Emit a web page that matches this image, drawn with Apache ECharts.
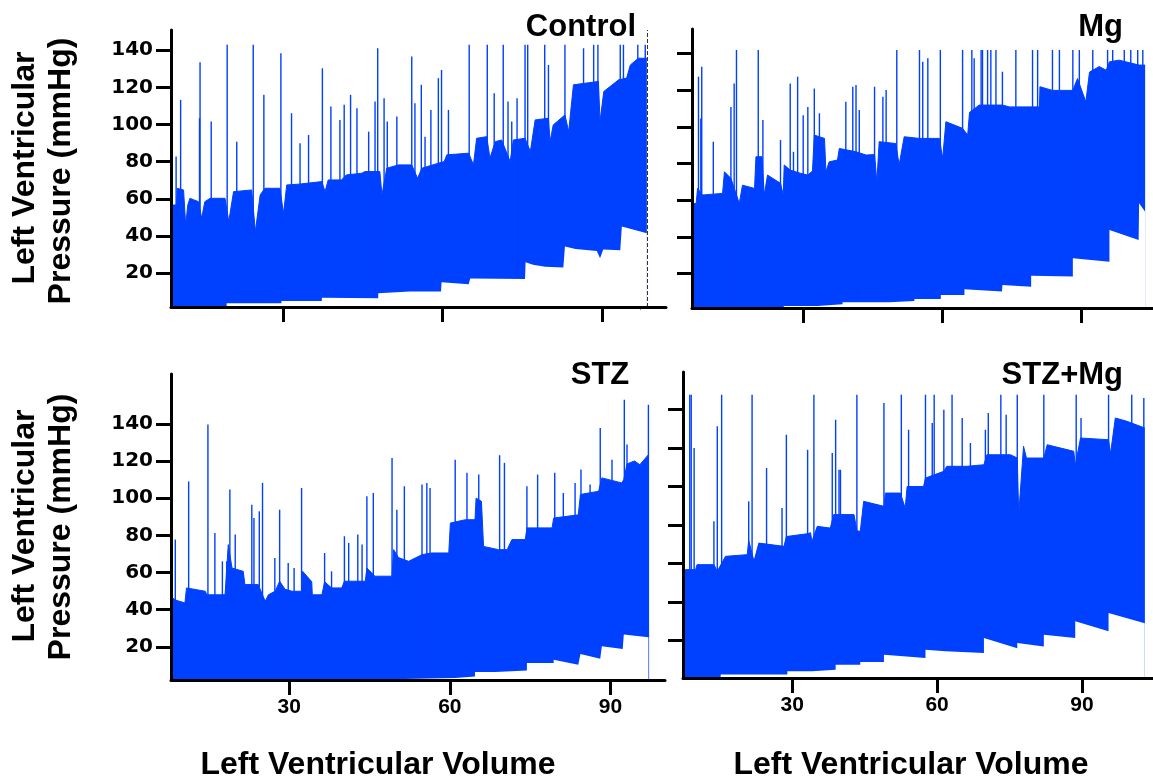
<!DOCTYPE html>
<html>
<head>
<meta charset="utf-8">
<script src="https://cdn.jsdelivr.net/npm/echarts@6/dist/echarts.min.js"></script>
<style>html,body{margin:0;padding:0;background:#fff;}#chart{width:1153px;height:778px;}</style>
</head>
<body>
<div id="chart"></div>
<script>
// ---------------- DATA ----------------
const panelTitles = ['Control', 'Mg', 'STZ', 'STZ+Mg'];
const xTickValues = [30, 60, 90];
const yTickValues = [20, 40, 60, 80, 100, 120, 140];
const yAxisTitleLines = ['Left Ventricular', 'Pressure (mmHg)'];
const xAxisTitle = 'Left Ventricular Volume';

// upper envelope of the pressure trace [volume, pressure]
const controlUpper = [[9.2,56.7],[10.0,56.7],[10.1,65.7],[11.3,64.8],[11.7,46.0],[12.1,56.7],[12.5,60.3],[14.1,58.5],[14.7,49.6],[15.3,58.5],[16.3,60.3],[19.1,60.3],[19.8,47.8],[20.7,63.9],[24.1,64.8],[24.8,42.4],[25.7,62.1],[26.6,65.7],[29.4,65.7],[30.1,52.2],[30.7,67.5],[32.9,67.9],[37.3,69.3],[37.9,63.9],[38.5,70.2],[41.0,70.2],[41.9,72.9],[44.8,73.8],[45.4,74.7],[48.2,74.7],[48.6,62.1],[49.5,76.5],[51.7,78.3],[54.2,78.3],[55.3,71.1],[56.1,76.5],[59.2,79.2],[60.3,80.1],[60.8,83.7],[64.9,84.6],[65.8,78.3],[66.4,92.6],[68.3,93.5],[68.9,81.9],[69.9,90.8],[71.1,91.7],[72.7,80.1],[73.3,91.7],[75.5,92.6],[76.5,85.5],[77.4,102.5],[79.9,103.4],[80.2,90.8],[80.8,99.8],[83.0,105.2],[83.7,96.2],[84.6,121.4],[89.3,123.2],[89.6,101.6],[90.3,117.8],[93.1,124.1],[94.6,125.0],[95.3,132.1],[96.8,135.7],[98.4,135.7]];
// lower envelope
const controlLower = [[9.2,2.0],[19.4,2.0],[19.4,3.8],[29.7,3.8],[29.7,5.0],[37.3,5.0],[37.3,6.8],[47.9,6.5],[47.9,9.2],[53.9,10.1],[54.2,11.0],[59.7,10.1],[59.8,15.1],[64.9,14.0],[65.2,17.2],[75.5,16.9],[75.6,25.9],[77.0,24.5],[79.3,23.5],[82.7,23.0],[83.0,34.3],[85.0,33.0],[89.0,32.0],[89.6,28.0],[90.2,32.8],[93.4,32.4],[93.7,45.1],[98.4,41.5]];
// spikes [volume, peak pressure]
const controlSpikes = [[9.9,82.8],[10.75,113.3],[14.3,103.4],[14.4,133.6],[16.5,101.6],[19.5,143],[21.3,90.8],[24.4,143],[26.4,116],[29.6,138.4],[31.6,106.1],[33.2,89.9],[34.8,94.4],[37.4,130.3],[39.0,109.7],[40.7,102.5],[41.5,110.6],[42.7,116],[43.9,108.8],[46.1,96.2],[47.3,112.4],[47.8,141.1],[49.0,114.2],[49.6,101.6],[51.4,104.3],[54.2,136.6],[54.8,111.5],[56.0,121.4],[56.7,93.5],[57.8,107.9],[59.2,125],[59.8,129.4],[61.1,107.9],[65.0,143],[68.4,143],[69.7,116.9],[71.4,143],[72.3,112.4],[73.0,101.6],[74.0,114.2],[75.5,143],[76.0,143],[79.2,143],[79.9,132.1],[83.0,143],[86.5,141.1],[88.4,143],[89.2,143],[93.4,143],[94.0,143],[96.7,143],[98.1,143]];

const mgUpper = [[6.0,58.3],[6.8,58.3],[7.1,66.5],[8.2,62.9],[12.5,63.8],[12.9,75.6],[14.3,72.0],[15.5,63.0],[16.1,58.3],[16.8,68.3],[19.4,66.5],[19.7,83.8],[21.0,83.8],[21.5,62.9],[22.2,73.8],[25.0,69.3],[25.6,62.9],[25.8,79.3],[27.1,76.5],[29.4,74.7],[30.9,73.8],[31.9,76.0],[32.3,95.6],[34.5,93.8],[34.8,75.6],[35.5,81.0],[37.3,82.0],[37.7,88.3],[41.3,86.5],[43.5,84.7],[45.3,85.0],[45.8,70.0],[46.3,92.0],[49.9,91.0],[50.6,79.3],[51.7,94.7],[55.0,93.8],[59.3,93.8],[60.0,82.9],[60.7,102.9],[64.3,99.3],[65.4,95.6],[65.8,108.0],[67.9,112.0],[72.9,112.0],[74.4,111.0],[80.9,111.0],[81.0,122.0],[83.7,120.0],[88.1,120.0],[89.1,126.5],[90.9,113.8],[91.7,130.0],[93.8,133.0],[95.3,131.0],[96.0,135.6],[98.1,136.5],[102.4,133.8],[103.7,133.8]];
const mgLower = [[6.0,1.3],[25.7,1.3],[25.7,2.4],[33.0,2.4],[33.0,3.3],[38.4,3.3],[38.4,4.4],[48.5,4.4],[48.5,5.1],[53.9,5.1],[53.9,6.2],[59.6,6.2],[59.6,8.4],[64.7,8.4],[64.7,11.5],[72.8,10.2],[72.9,13.8],[79.1,12.9],[79.1,18.9],[88.1,18.4],[88.1,28.4],[96.0,26.5],[96.0,43.8],[102.3,38.4],[102.4,58.4],[103.7,53.8]];
const mgSpikes = [[7.3,127.5],[7.8,104.7],[8.0,132.9],[10.5,92],[14.3,111],[15.0,123.8],[15.5,142],[20.2,142],[21.2,103.8],[25.0,92.9],[27.1,123.8],[27.8,86.5],[28.7,127.5],[29.9,106.5],[30.9,111],[32.3,121],[33.4,107.5],[39.1,113.8],[40.6,122],[41.3,122.9],[42.0,109.3],[45.3,122],[47.1,116.5],[47.8,120.2],[50.1,142],[55.0,142],[55.7,135.6],[56.8,137.5],[59.5,142],[64.3,142],[66.3,142],[66.8,137.5],[68.3,142],[68.6,142],[69.7,142],[70.4,142],[71.5,142],[72.9,130.2],[75.8,142],[79.4,142],[80.5,142],[83.7,142],[85.2,142],[88.1,142],[89.5,142],[92.4,142],[95.6,142],[96.7,142],[99.2,142],[100.6,142],[102.1,142],[103.2,142]];

const stzUpper = [[8.2,46.3],[8.7,45.2],[10.5,43.6],[10.8,51.7],[14.3,49.9],[14.6,48.0],[18.0,48.0],[18.6,75.0],[19.3,62.4],[21.4,60.6],[21.7,53.5],[24.2,53.5],[25.5,44.5],[26.1,48.0],[27.4,50.0],[28.2,55.3],[29.2,51.0],[30.5,49.9],[32.3,49.9],[32.5,60.6],[34.2,55.0],[34.3,48.0],[36.1,48.0],[36.6,55.0],[37.9,51.7],[39.8,51.7],[40.3,55.3],[44.2,55.3],[44.5,62.4],[46.0,58.0],[49.2,58.0],[49.5,72.3],[50.4,68.0],[52.3,66.0],[54.8,69.6],[56.6,70.5],[59.8,70.5],[60.1,86.6],[62.9,88.4],[64.7,88.4],[64.9,100.0],[65.9,98.3],[66.3,74.0],[69.1,72.3],[70.7,72.3],[71.6,77.7],[74.1,77.7],[74.4,84.0],[79.1,84.0],[79.4,89.3],[84.0,91.0],[84.4,102.0],[87.8,103.7],[88.4,110.9],[92.1,108.2],[92.5,110.0],[93.1,118.4],[94.5,120.0],[95.5,118.0],[97.1,123.4]];
const stzLower = [[8.2,2.3],[44.2,2.3],[44.2,3.2],[61.0,3.2],[61.0,4.1],[64.7,4.1],[64.7,6.5],[68.5,6.5],[68.5,7.2],[74.4,7.2],[74.4,11.3],[79.4,11.3],[79.4,13.1],[84.0,10.4],[84.4,16.1],[88.1,13.6],[88.4,20.3],[92.3,18.8],[92.5,26.6],[97.1,25.1]];
const stzSpikes = [[8.7,77.7],[11.2,109],[14.8,139.6],[16.1,81.3],[17.5,66],[18.3,66],[18.9,104.6],[19.9,80.4],[23.0,96.5],[23.4,89.3],[24.4,92.9],[25.0,108.2],[27.3,67.8],[28.2,93.8],[29.8,65.1],[30.9,62.4],[32.3,105.5],[36.6,70.5],[37.9,60.6],[40.3,79.5],[41.1,75.9],[42.8,80.4],[43.6,75],[44.5,101],[45.7,102.8],[49.2,121.6],[50.1,93.8],[51.5,106.4],[54.8,107.3],[55.7,108.2],[56.3,105.5],[61.0,120.7],[63.2,113.6],[65.4,112.7],[69.3,123.1],[70.2,119],[74.4,106.4],[76.4,112.7],[79.6,113.6],[81.2,102.8],[83.4,108.2],[84.5,115.4],[86.2,107.3],[88.1,137.8],[90.3,120.7],[92.6,153],[93.1,128.8],[97.1,150.3]];

const stzMgUpper = [[7.7,56.8],[10.0,56.8],[10.3,59.4],[13.8,59.4],[14.5,56.0],[14.8,56.0],[16.2,63.7],[20.7,64.6],[21.0,72.0],[22.1,61.1],[23.1,70.6],[28.3,68.9],[28.8,74.0],[33.2,75.5],[33.8,76.0],[34.1,71.5],[35.2,79.3],[37.9,78.4],[38.6,85.4],[42.8,85.4],[43.4,77.0],[44.1,76.7],[44.8,92.3],[49.0,89.7],[49.3,96.6],[52.4,96.6],[53.4,88.8],[53.8,100.0],[57.2,100.0],[57.6,104.4],[61.4,107.9],[62.0,110.5],[66.2,110.5],[69.7,111.3],[70.3,116.5],[75.2,116.5],[76.6,114.8],[76.9,85.4],[77.9,120.9],[78.5,114.8],[82.1,114.8],[82.8,121.7],[88.3,118.3],[88.6,111.0],[89.7,125.2],[95.5,124.3],[95.9,117.0],[96.9,135.6],[99.3,133.9],[103.0,130.4]];
const stzMgLower = [[7.7,1.0],[15.2,1.0],[15.2,2.3],[29.0,2.3],[29.0,4.0],[34.1,4.0],[34.1,4.8],[39.0,4.8],[39.0,7.4],[44.1,7.4],[44.1,8.8],[49.0,8.8],[49.0,12.6],[57.6,10.9],[57.6,15.2],[61.7,14.4],[61.7,13.5],[69.7,13.5],[69.7,21.3],[76.6,16.0],[76.6,18.7],[82.1,16.9],[82.1,23.0],[88.6,21.3],[88.6,30.0],[95.5,24.8],[95.5,34.3],[103.0,29.0]];
const stzMgSpikes = [[8.8,147.7],[9.1,147.7],[9.7,120],[13.8,81.9],[14.5,131.3],[15.4,147.7],[21.0,92.3],[21.7,147.7],[24.7,109.6],[27.9,88.8],[28.8,126.9],[33.2,119.1],[34.5,147.7],[38.3,117.4],[39.0,134.7],[39.7,108.7],[40.0,108.7],[43.4,147.7],[49.0,143.4],[52.6,147.7],[54.1,129.5],[57.6,147.7],[59.0,133],[59.4,147.7],[61.4,139.9],[63.1,147.7],[65.2,135.6],[66.9,122.6],[70.0,129.5],[70.6,138.2],[73.2,147.7],[74.3,137.3],[76.6,147.7],[82.1,147.7],[88.8,147.7],[89.8,135.6],[95.5,147.7],[100.3,147.7],[102.8,146]];

const markerVolume = 98.5; // dotted marker in Control panel

// ---------------- LAYOUT ----------------
const BLUE = '#0040ff';
const panels = [
  {grid:{left:171, top:30,  width:495, height:277}, x:[8.94,102.0], y:[1.8,150.9], xLab:false, yLab:true,  up:controlUpper, lo:controlLower, sp:controlSpikes},
  {grid:{left:692, top:29,  width:461, height:279}, x:[5.9,105.4],  y:[1.25,153.5], xLab:false, yLab:false, up:mgUpper, lo:mgLower, sp:mgSpikes},
  {grid:{left:171, top:374, width:494, height:306}, x:[7.9,100.2],  y:[2.15,166.8], xLab:true,  yLab:true,  up:stzUpper, lo:stzLower, sp:stzSpikes},
  {grid:{left:683, top:372, width:470, height:306}, x:[7.4,104.7],  y:[0.5,159.5],  xLab:true,  yLab:false, up:stzMgUpper, lo:stzMgLower, sp:stzMgSpikes}
];

const grids = [], xAxes = [], yAxes = [], series = [];
panels.forEach((p, i) => {
  grids.push(Object.assign({outerBoundsMode:'none', containLabel:false}, p.grid));
  xAxes.push({
    gridIndex:i, type:'value', min:p.x[0], max:p.x[1], z:10,
    axisLine:{show:true, onZero:false, lineStyle:{color:'#000', width:3}},
    axisTick:{show:true, length:15, customValues:xTickValues, lineStyle:{color:'#000', width:3}},
    axisLabel:{show:p.xLab, customValues:xTickValues, margin:17, color:'#000', fontSize:21, fontWeight:'bold', fontFamily:'Liberation Sans'},
    splitLine:{show:false}
  });
  yAxes.push({
    gridIndex:i, type:'value', min:p.y[0], max:p.y[1], z:10,
    axisLine:{show:true, onZero:false, lineStyle:{color:'#000', width:3}},
    axisTick:{show:true, length:15, customValues:yTickValues, lineStyle:{color:'#000', width:3}},
    axisLabel:{show:p.yLab, customValues:yTickValues, margin:18, color:'#000', fontSize:20, fontWeight:'bold', fontFamily:'DejaVu Sans'},
    splitLine:{show:false}
  });
  series.push({
    type:'line', xAxisIndex:i, yAxisIndex:i, data:p.up, symbol:'none', z:2,
    lineStyle:{color:BLUE, width:1}, areaStyle:{color:BLUE, opacity:1, origin:'start'}, silent:true
  });
  const base = p.y[0];
  series.push({
    type:'custom', xAxisIndex:i, yAxisIndex:i, data:p.sp, z:3, silent:true,
    renderItem:function(params, api){
      const x = api.value(0), top = api.value(1);
      const a = api.coord([x, base]), b = api.coord([x, top]);
      return {type:'line', shape:{x1:a[0], y1:a[1], x2:b[0], y2:b[1]}, style:{stroke:BLUE, lineWidth:1.4}};
    }
  });
  const lower = {
    type:'line', xAxisIndex:i, yAxisIndex:i, data:p.lo, symbol:'none', z:4,
    lineStyle:{width:0}, areaStyle:{color:'#ffffff', opacity:1, origin:'start'}, silent:true
  };
  if (i === 0) {
    lower.markLine = {silent:true, symbol:['none','none'], label:{show:false},
      lineStyle:{type:'dashed', color:'#333', width:1}, data:[{xAxis:markerVolume}]};
  }
  series.push(lower);
});

const font = {fontFamily:'Liberation Sans', fontWeight:'bold', fill:'#000'};
const graphic = [
  {type:'text', x:636, y:27, style:Object.assign({text:panelTitles[0], fontSize:31, align:'right', verticalAlign:'middle'}, font)},
  {type:'text', x:1123, y:27, style:Object.assign({text:panelTitles[1], fontSize:31, align:'right', verticalAlign:'middle'}, font)},
  {type:'text', x:600, y:375, style:Object.assign({text:panelTitles[2], fontSize:31, align:'center', verticalAlign:'middle'}, font)},
  {type:'text', x:1123, y:375, style:Object.assign({text:panelTitles[3], fontSize:31, align:'right', verticalAlign:'middle'}, font)},
  {type:'text', x:25, y:168, rotation:Math.PI/2, style:Object.assign({text:yAxisTitleLines[0], fontSize:32, align:'center', verticalAlign:'middle'}, font)},
  {type:'text', x:61, y:171, rotation:Math.PI/2, style:Object.assign({text:yAxisTitleLines[1], fontSize:32, align:'center', verticalAlign:'middle'}, font)},
  {type:'text', x:25, y:526, rotation:Math.PI/2, style:Object.assign({text:yAxisTitleLines[0], fontSize:32, align:'center', verticalAlign:'middle'}, font)},
  {type:'text', x:61, y:527, rotation:Math.PI/2, style:Object.assign({text:yAxisTitleLines[1], fontSize:32, align:'center', verticalAlign:'middle'}, font)},
  {type:'text', x:378, y:765, style:Object.assign({text:xAxisTitle, fontSize:32, align:'center', verticalAlign:'middle'}, font)},
  {type:'text', x:911, y:765, style:Object.assign({text:xAxisTitle, fontSize:32, align:'center', verticalAlign:'middle'}, font)},
  {type:'text', x:642, y:305, rotation:Math.PI/2, style:{text:'Text', fontSize:6, fontFamily:'Liberation Sans', fill:'#333', align:'center', verticalAlign:'middle'}}
];

const chart = echarts.init(document.getElementById('chart'), null, {renderer:'canvas'});
chart.setOption({
  animation:false,
  backgroundColor:'#ffffff',
  grid:grids, xAxis:xAxes, yAxis:yAxes, series:series, graphic:graphic
});
</script>
</body>
</html>
